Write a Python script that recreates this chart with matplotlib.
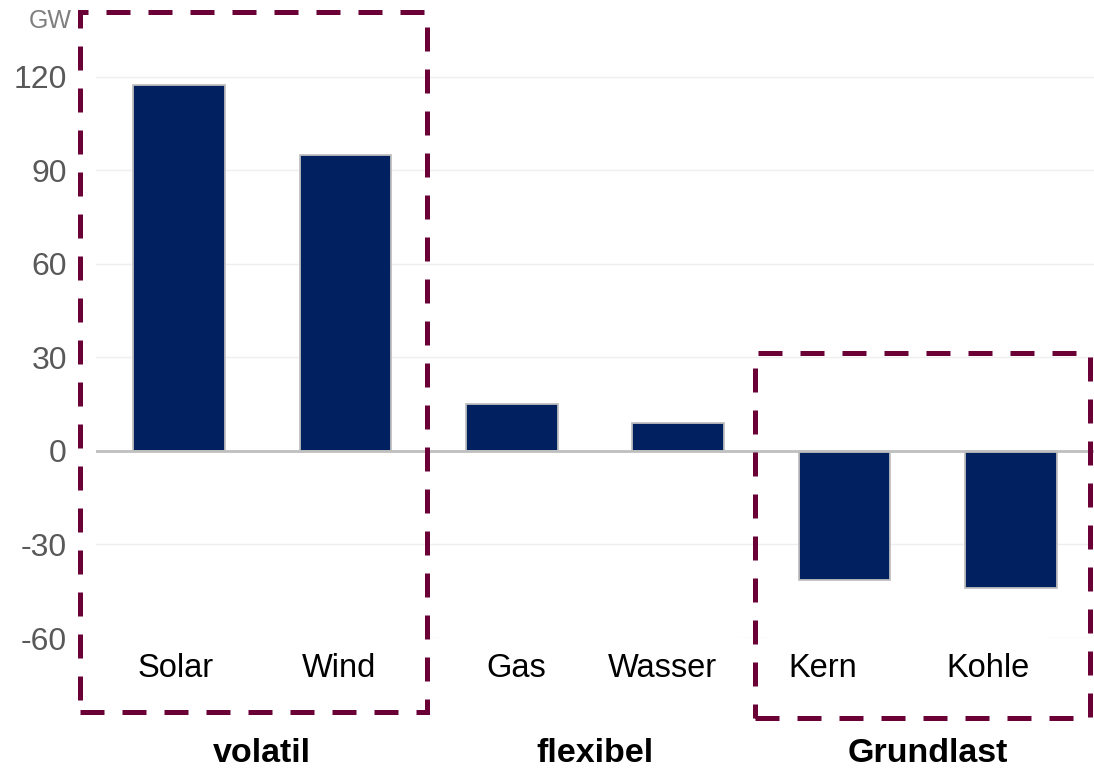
import matplotlib.pyplot as plt
from matplotlib.patches import Rectangle
from matplotlib.transforms import blended_transform_factory, ScaledTranslation

plt.rcParams['font.family'] = ['Liberation Sans', 'DejaVu Sans']

# data
categories = ['Solar', 'Wind', 'Gas', 'Wasser', 'Kern', 'Kohle']
values = [117.5, 95, 15, 9, -41.5, -44]
groups = ['volatil', 'flexibel', 'Grundlast']
group_members = [(0, 1), (2, 3), (4, 5)]
yticks = [-60, -30, 0, 30, 60, 90, 120]

bar_color = '#002060'
edge_color = '#BFBFBF'
box_color = '#6B0036'
tick_gray = '#595959'

fig = plt.figure(figsize=(10.94, 7.76), dpi=100)
ax = fig.add_axes([96 / 1094, 138 / 776, 998 / 1094, 608 / 776])

x = list(range(len(categories)))
ax.bar(x, values, width=0.55, color=bar_color, edgecolor=edge_color,
       linewidth=1.3, zorder=3)
ax.axhline(0, color=edge_color, lw=2, zorder=4)

ax.set_xlim(-0.5, 5.5)
ax.set_ylim(-60, 135)
ax.set_yticks(yticks)
ax.set_yticklabels([str(v) for v in yticks])
ax.grid(axis='y', color='#EFEFEF', lw=1, zorder=0)
ax.set_axisbelow(True)
for s in ax.spines.values():
    s.set_visible(False)
ax.tick_params(axis='y', length=0, pad=21, labelsize=23, labelcolor=tick_gray)
ax.set_xticks(x)
ax.set_xticklabels(categories)
ax.tick_params(axis='x', length=0, pad=11, labelsize=23.5, labelcolor='black')

# category labels sit slightly off the bar centres in the original
label_shift = [-4, -6, 4, -16, -22, -23]
for lab, dx in zip(ax.get_xticklabels(), label_shift):
    lab.set_transform(lab.get_transform() + ScaledTranslation(dx / 100, 0, fig.dpi_scale_trans))

# white cover behind category labels (hides bottom gridline)
covers = [(-0.52, 1.47), (1.57, 3.37), (3.55, 5.23)]
for x0, x1 in covers:
    ax.add_patch(Rectangle((x0, -61), x1 - x0, 2, facecolor='white',
                           edgecolor='none', zorder=1, clip_on=False))

# group labels
trans = blended_transform_factory(ax.transData, ax.transAxes)
for name, (a, b) in zip(groups, group_members):
    ax.text((a + b) / 2, -0.19, name, transform=trans, ha='center', va='center',
            fontsize=24.5, fontweight='bold')

# dashed boxes
boxes = [(-0.596, -83.7, 1.489, 140.8), (3.46, -85.7, 5.474, 31.4)]
for x0, y0, x1, y1 in boxes:
    ax.add_patch(Rectangle((x0, y0), x1 - x0, y1 - y0, fill=False,
                           edgecolor=box_color, lw=3.6,
                           linestyle=(0, (4.8, 3.6)), zorder=5, clip_on=False))

fig.text(50 / 1094, 1 - 21 / 776, 'GW', ha='center', va='center',
         fontsize=18, color='#7F7F7F')

fig.savefig('out.png', dpi=100)
